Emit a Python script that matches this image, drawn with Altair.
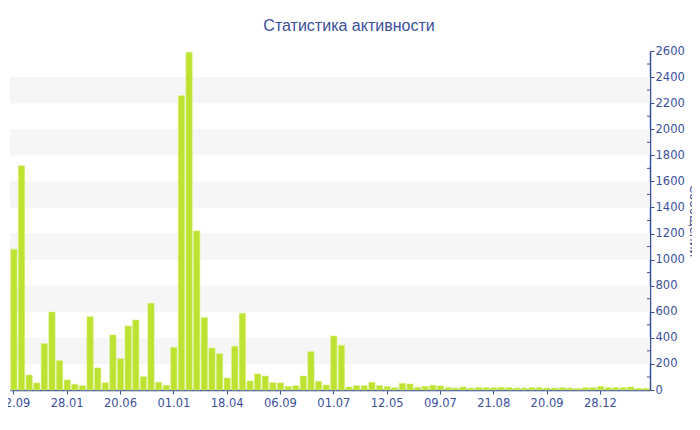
import altair as alt
import pandas as pd

values = [1080, 1720, 115, 54, 355, 598, 225, 77, 44, 33,
          562, 169, 56, 422, 240, 491, 537, 102, 665, 59,
          36, 327, 2257, 2590, 1220, 555, 322, 278, 92, 335,
          588, 69, 123, 107, 56, 54, 28, 33, 107, 294,
          67, 38, 414, 343, 23, 33, 33, 59, 33, 26,
          18, 51, 46, 20, 28, 36, 31, 20, 15, 23,
          15, 20, 18, 18, 20, 18, 15, 15, 18, 18,
          15, 15, 18, 15, 13, 18, 18, 28, 18, 18,
          18, 23, 13, 13]
tick_labels = ["12.09", "28.01", "20.06", "01.01", "18.04", "06.09",
               "01.07", "12.05", "09.07", "21.08", "20.09", "28.12"]
tick_idx = [i * 7 for i in range(len(tick_labels))]
band_lo = [200, 600, 1000, 1400, 1800, 2200]
band_hi = [400, 800, 1200, 1600, 2000, 2400]
minor_ticks = [100 + 200 * i for i in range(13)]

AX = "#3b4f9c"
FONT = "DejaVu Sans"

df = pd.DataFrame({"idx": list(range(len(values))), "v": values})
bands = pd.DataFrame({"lo": band_lo, "hi": band_hi})
minors = pd.DataFrame({"m": minor_ticks})

yscale = alt.Scale(domain=[0, 2600], nice=False, zero=True)
yaxis = alt.Axis(orient="right", values=list(range(0, 2601, 200)), format="d",
                 title="Сообщений", titleColor=AX, titleFont=FONT,
                 titleFontSize=12, titleFontWeight="normal", titlePadding=2,
                 domainColor=AX, tickColor=AX, labelColor=AX,
                 labelFont=FONT, labelFontSize=11.5, tickSize=4,
                 labelPadding=1, grid=False, domainWidth=1.5)
label_arr = "[" + ",".join("'%s'" % s for s in tick_labels) + "]"

band_layer = alt.Chart(bands).mark_rect(color="#f6f6f6").encode(
    x=alt.value(0), x2=alt.value(640),
    y=alt.Y("lo:Q", scale=yscale, axis=yaxis, title="Сообщений"),
    y2="hi:Q",
)

bars = alt.Chart(df).mark_bar(color="#bde232", stroke="#d4ef70", strokeWidth=0.6).encode(
    x=alt.X("idx:O", scale=alt.Scale(paddingInner=0.18, paddingOuter=0.1),
            axis=alt.Axis(values=tick_idx, labelExpr=label_arr + "[datum.value/7]",
                          labelAngle=0, title=None, domainColor=AX, tickColor=AX,
                          labelColor=AX, labelFont=FONT, labelFontSize=11.5,
                          tickSize=4, labelPadding=3, domainWidth=1.5)),
    y=alt.Y("v:Q", scale=yscale, axis=yaxis, title="Сообщений"),
)

minor_layer = alt.Chart(minors).mark_rule(color=AX, strokeWidth=1).encode(
    x=alt.value(637), x2=alt.value(640),
    y=alt.Y("m:Q", scale=yscale, axis=yaxis, title="Сообщений"),
)

chart = alt.layer(band_layer, bars, minor_layer).properties(
    width=640, height=339,
    background="white",
    autosize=alt.AutoSizeParams(type="none"),
    padding={"left": 2, "top": 43, "right": 42, "bottom": 32},
    title=alt.TitleParams("Статистика активности", font="Liberation Sans", fontSize=16,
                          fontWeight="normal", color=AX, anchor="middle",
                          dx=19, offset=11),
).configure_view(stroke="transparent", strokeWidth=0)

chart.save("out.html", embed_options={"renderer": "svg", "actions": False})
